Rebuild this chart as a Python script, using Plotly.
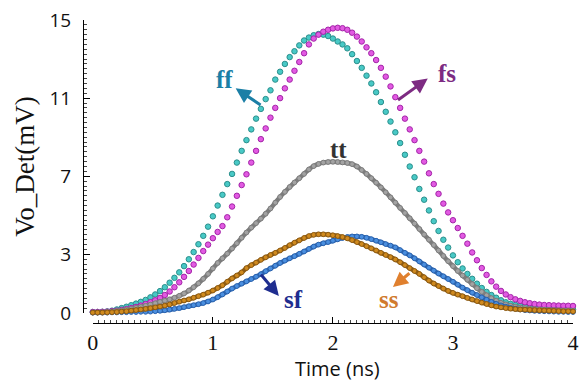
import numpy as np
import plotly.graph_objects as go

# Time axis (ns), step 0.04
time_ns = [round(i * 0.04, 2) for i in range(101)]

ff = [0.05, 0.05, 0.06, 0.08, 0.12, 0.18, 0.25, 0.32, 0.40, 0.48,
      0.57, 0.67, 0.80, 0.95, 1.12, 1.32, 1.55, 1.80, 2.08, 2.40,
      2.75, 3.12, 3.52, 3.95, 4.42, 4.95, 5.50, 6.05, 6.60, 7.12,
      7.70, 8.30, 8.85, 9.40, 9.95, 10.45, 10.95, 11.40, 11.95, 12.35,
      12.75, 13.10, 13.40, 13.70, 13.95, 14.10, 14.22, 14.28, 14.25, 14.18,
      14.05, 13.90, 13.75, 13.55, 13.25, 12.90, 12.55, 12.15, 11.75, 11.30,
      10.80, 10.30, 9.80, 9.25, 8.70, 8.10, 7.50, 6.95, 6.35, 5.80,
      5.25, 4.70, 4.20, 3.75, 3.35, 2.95, 2.60, 2.28, 2.00, 1.75,
      1.50, 1.28, 1.08, 0.92, 0.78, 0.65, 0.55, 0.47, 0.41, 0.36,
      0.32, 0.29, 0.26, 0.24, 0.22, 0.21, 0.20, 0.19, 0.18, 0.18, 0.17]

fs = [0.05, 0.05, 0.06, 0.07, 0.09, 0.12, 0.16, 0.20, 0.25, 0.31,
      0.38, 0.46, 0.55, 0.65, 0.77, 0.92, 1.10, 1.32, 1.57, 1.85,
      2.15, 2.48, 2.82, 3.17, 3.50, 3.83, 4.15, 4.45, 4.90, 5.45,
      6.00, 6.55, 7.10, 7.70, 8.30, 8.90, 9.45, 10.00, 10.50, 11.00,
      11.50, 11.95, 12.40, 12.85, 13.30, 13.75, 14.05, 14.25, 14.40, 14.50,
      14.57, 14.60, 14.58, 14.50, 14.35, 14.15, 13.90, 13.60, 13.30, 12.95,
      12.55, 12.10, 11.60, 11.05, 10.50, 9.95, 9.40, 8.85, 8.30, 7.75,
      7.15, 6.60, 6.10, 5.60, 5.15, 4.75, 4.35, 3.95, 3.55, 3.10,
      2.70, 2.30, 1.95, 1.62, 1.35, 1.13, 0.95, 0.81, 0.70, 0.62,
      0.55, 0.50, 0.46, 0.43, 0.41, 0.40, 0.39, 0.38, 0.37, 0.37, 0.36]

tt = [0.03, 0.03, 0.04, 0.05, 0.07, 0.10, 0.13, 0.17, 0.21, 0.26,
      0.31, 0.37, 0.43, 0.50, 0.57, 0.63, 0.70, 0.78, 0.88, 1.00,
      1.15, 1.32, 1.52, 1.75, 2.00, 2.28, 2.56, 2.80, 3.04, 3.30,
      3.57, 3.85, 4.12, 4.37, 4.60, 4.83, 5.08, 5.35, 5.65, 5.94,
      6.20, 6.45, 6.68, 6.90, 7.12, 7.35, 7.52, 7.63, 7.70, 7.73,
      7.74, 7.73, 7.71, 7.68, 7.62, 7.50, 7.32, 7.12, 6.90, 6.67,
      6.43, 6.18, 5.92, 5.65, 5.38, 5.12, 4.85, 4.58, 4.30, 4.02,
      3.75, 3.48, 3.20, 2.92, 2.65, 2.40, 2.15, 1.92, 1.70, 1.48,
      1.27, 1.08, 0.91, 0.76, 0.63, 0.52, 0.44, 0.37, 0.32, 0.28,
      0.25, 0.22, 0.20, 0.18, 0.17, 0.16, 0.15, 0.14, 0.13, 0.13, 0.12]

sf = [0.02, 0.02, 0.02, 0.02, 0.03, 0.03, 0.04, 0.04, 0.05, 0.05,
      0.06, 0.06, 0.07, 0.09, 0.11, 0.14, 0.17, 0.21, 0.25, 0.30,
      0.35, 0.40, 0.45, 0.51, 0.59, 0.69, 0.81, 0.95, 1.10, 1.25,
      1.38, 1.50, 1.62, 1.74, 1.86, 1.99, 2.14, 2.28, 2.42, 2.56,
      2.68, 2.80, 2.91, 3.03, 3.15, 3.28, 3.40, 3.50, 3.57, 3.63,
      3.70, 3.77, 3.84, 3.89, 3.92, 3.92, 3.90, 3.85, 3.78, 3.70,
      3.62, 3.53, 3.45, 3.36, 3.22, 3.08, 2.95, 2.80, 2.64, 2.48,
      2.32, 2.17, 2.02, 1.88, 1.74, 1.60, 1.45, 1.30, 1.17, 1.04,
      0.92, 0.80, 0.68, 0.57, 0.47, 0.39, 0.32, 0.26, 0.22, 0.18,
      0.15, 0.13, 0.11, 0.10, 0.09, 0.08, 0.07, 0.06, 0.06, 0.05, 0.05]

ss = [0.02, 0.02, 0.02, 0.03, 0.04, 0.05, 0.07, 0.09, 0.12, 0.15,
      0.18, 0.21, 0.25, 0.29, 0.33, 0.38, 0.44, 0.51, 0.58, 0.64,
      0.70, 0.78, 0.86, 0.94, 1.04, 1.15, 1.28, 1.42, 1.60, 1.77,
      1.92, 2.08, 2.30, 2.45, 2.58, 2.72, 2.85, 2.97, 3.08, 3.20,
      3.33, 3.47, 3.60, 3.72, 3.84, 3.94, 4.00, 4.03, 4.03, 4.01,
      3.98, 3.94, 3.89, 3.82, 3.73, 3.63, 3.53, 3.42, 3.31, 3.20,
      3.08, 2.97, 2.86, 2.74, 2.60, 2.45, 2.30, 2.15, 2.00, 1.83,
      1.66, 1.51, 1.38, 1.25, 1.13, 1.03, 0.94, 0.86, 0.77, 0.69,
      0.61, 0.53, 0.46, 0.39, 0.33, 0.29, 0.25, 0.22, 0.20, 0.18,
      0.17, 0.16, 0.15, 0.14, 0.13, 0.12, 0.11, 0.10, 0.09, 0.09, 0.08]

x_ticks = [0, 1, 2, 3, 4]
y_ticks = [0, 3, 7, 11, 15]

series = [
    ("ff", ff, "#48c9c6", "#2b8f8c", False),
    ("fs", fs, "#e25ae2", "#a324a8", False),
    ("tt", tt, "#a3a3a3", "#7c7c7c", True),
    ("sf", sf, "#4a8fe0", "#2a62ad", True),
    ("ss", ss, "#d08a1e", "#8c5a12", True),
]

fig = go.Figure()
for name, vals, fill, edge, dense in series:
    if dense:
        fig.add_trace(go.Scatter(
            x=time_ns, y=vals, mode="lines", name=name,
            line=dict(color=edge, width=4.5, shape="spline"),
            hoverinfo="skip", showlegend=False, cliponaxis=False))
    fig.add_trace(go.Scatter(
        x=time_ns, y=vals, mode="markers", name=name,
        marker=dict(size=5.5 if not dense else 4.8, color=fill,
                    line=dict(color=edge, width=1)),
        showlegend=False, cliponaxis=False))

# labels and arrows (data coordinates)
labels = [
    ("ff", 1.10, 11.95, "#1b7fa6"),
    ("fs", 2.95, 12.25, "#7d2b82"),
    ("tt", 2.05, 8.35, "#333333"),
    ("sf", 1.67, 0.68, "#1f2d8f"),
    ("ss", 2.47, 0.68, "#d07a2e"),
]
for txt, lx, ly, col in labels:
    fig.add_annotation(x=lx, y=ly, text="<b>%s</b>" % txt, showarrow=False,
                       font=dict(family="Liberation Serif", size=25, color=col))

arrows = [
    # head (x, y), tail (ax, ay), colour
    (1.19, 11.5, 1.41, 10.6, "#1b7fa6"),
    (2.79, 12.0, 2.53, 10.85, "#7d2b82"),
    (1.55, 0.87, 1.39, 2.05, "#1f2d8f"),
    (2.50, 1.33, 2.65, 2.10, "#e0802e"),
]
for hx, hy, tx, ty, col in arrows:
    fig.add_annotation(x=hx, y=hy, ax=tx, ay=ty, xref="x", yref="y",
                       axref="x", ayref="y", text="", showarrow=True,
                       arrowhead=2, arrowsize=1.0, arrowwidth=3,
                       arrowcolor=col)

# x-axis title as a paper annotation for exact placement
fig.add_annotation(x=0.52, y=-0.199, xref="paper", yref="paper",
                   text="Time (ns)", showarrow=False, yanchor="bottom",
                   borderpad=0,
                   font=dict(family="Open Sans", size=20, color="#111"))

fig.update_layout(
    width=587, height=385,
    margin=dict(l=83, r=14, t=20, b=62),
    paper_bgcolor="white", plot_bgcolor="white",
    xaxis=dict(
        domain=[0.02, 1], range=[0, 4], anchor="free", position=0,
        automargin=False,
        tickvals=x_ticks, ticktext=[str(v) for v in x_ticks],
        showgrid=False, zeroline=False, showline=True, linecolor="black",
        linewidth=1, ticks="inside", ticklen=6, tickcolor="black",
        ticklabelstandoff=0,
        tickfont=dict(family="Liberation Serif", size=22, color="#111"),
        minor=dict(dtick=0.05, tick0=0, ticks="inside", ticklen=3,
                   tickcolor="#444", showgrid=False),
    ),
    yaxis=dict(
        domain=[0.033, 1], range=[0, 15], anchor="free", position=0,
        automargin=False,
        tickvals=y_ticks, ticktext=[str(v) for v in y_ticks],
        showgrid=False, zeroline=False, showline=True, linecolor="black",
        linewidth=1, ticks="inside", ticklen=6, tickcolor="black",
        ticklabelstandoff=8,
        tickfont=dict(family="Open Sans", size=19, color="#111"),
        minor=dict(dtick=0.25, tick0=0, ticks="inside", ticklen=3,
                   tickcolor="#444", showgrid=False),
        title=dict(text="Vo_Det(mV)", standoff=6,
                   font=dict(family="Liberation Serif", size=27, color="#111")),
    ),
)

fig.write_html("out.html")
